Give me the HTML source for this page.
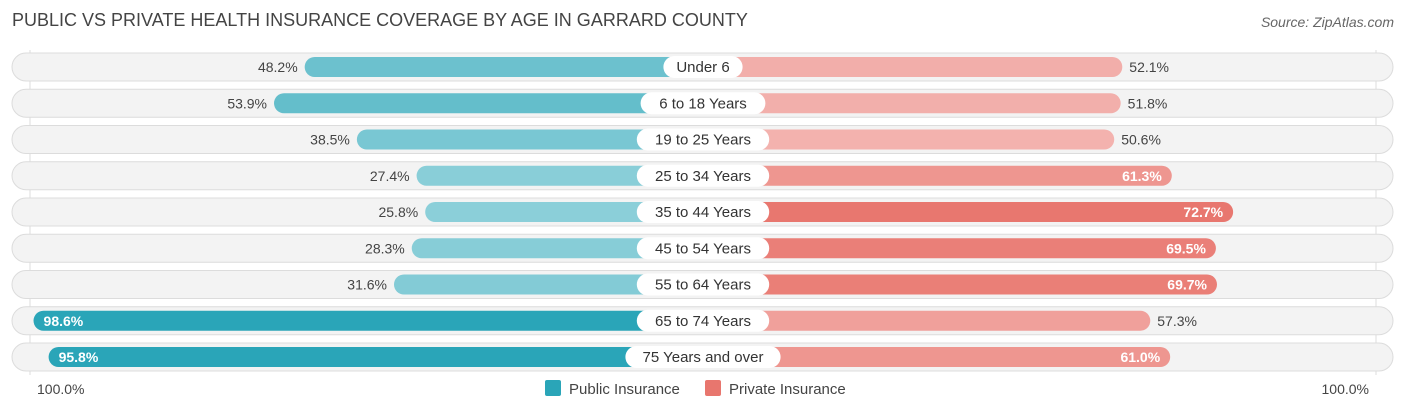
<!DOCTYPE html>
<html><head><meta charset="utf-8"><style>
body{margin:0;width:1406px;height:413px;background:#fff;font-family:"Liberation Sans",sans-serif;overflow:hidden;position:relative}
.t{position:absolute;left:12px;top:10px;font-size:18px;color:#444}
.src{position:absolute;right:12px;top:14px;font-size:14px;color:#666;font-style:italic}
</style></head><body>
<div class="t">PUBLIC VS PRIVATE HEALTH INSURANCE COVERAGE BY AGE IN GARRARD COUNTY</div>
<div class="src">Source: ZipAtlas.com</div>
<svg id="c" width="1406" height="413" style="position:absolute;left:0;top:0"></svg>
<script>
const categories=["Under 6","6 to 18 Years","19 to 25 Years","25 to 34 Years","35 to 44 Years","45 to 54 Years","55 to 64 Years","65 to 74 Years","75 Years and over"];
const publicVals=[48.2,53.9,38.5,27.4,25.8,28.3,31.6,98.6,95.8];
const privateVals=[52.1,51.8,50.6,61.3,72.7,69.5,69.7,57.3,61.0];
const axisLabels=["100.0%","100.0%"];
const NS="http://www.w3.org/2000/svg";
const svg=document.getElementById('c');
const cx=703,off=139,k=5.38,y0=67,dy=36.25;
function len(v){return off+v*k;}
function mix(a,b,t){t=Math.max(0,Math.min(1,t));return 'rgb('+a.map((x,i)=>Math.round(x+(b[i]-x)*t)).join(',')+')';}
function el(tag,attrs,parent){const e=document.createElementNS(NS,tag);for(const a in attrs)e.setAttribute(a,attrs[a]);(parent||svg).appendChild(e);return e;}
const line=el('line',{x1:30,y1:50,x2:30,y2:375,stroke:'#ddd'});

const line2=el('line',{x1:1376,y1:50,x2:1376,y2:375,stroke:'#ddd'});

categories.forEach((c,i)=>{
  const y=y0+i*dy;
  const g=el('g',{});
  
  
  el('rect',{x:12,y:y-14,width:1381,height:28,rx:14,fill:'#f3f3f3',stroke:'#dcdcdc'},g);
  const pv=publicVals[i],rv=privateVals[i];
  const pl=len(pv),rl=len(rv);
  const pb=el('rect',{x:cx-pl,y:y-10,width:pl,height:20,rx:10,fill:mix([140,207,217],[42,165,184],(pv-25)/70)},g);
  
  const rb=el('rect',{x:cx,y:y-10,width:rl,height:20,rx:10,fill:mix([243,180,176],[232,118,110],(rv-50)/23)},g);
  
  const tw=c.length*7.6+26;
  const lb=el('rect',{x:cx-tw/2,y:y-11,width:tw,height:22,rx:11,fill:'#fff'},g);
  
  const ct=el('text',{x:cx,y:y+5,'text-anchor':'middle','font-size':15,fill:'#333'},g);ct.textContent=c;
  
  const pin=pv>70;
  const pt=el('text',{x:pin?cx-pl+10:cx-pl-7,y:y+5,'text-anchor':pin?'start':'end','font-size':14,fill:pin?'#fff':'#444','font-weight':pin?'bold':'normal'},g);
  pt.textContent=pv.toFixed(1)+'%';
  
  const rin=rv>60;
  const rt=el('text',{x:rin?cx+rl-10:cx+rl+7,y:y+5,'text-anchor':rin?'end':'start','font-size':14,fill:rin?'#fff':'#444','font-weight':rin?'bold':'normal'},g);
  rt.textContent=rv.toFixed(1)+'%';
  
});
const a1=el('text',{x:37,y:394,'font-size':14,fill:'#444'});a1.textContent=axisLabels[0];

const a2=el('text',{x:1369,y:394,'font-size':14,fill:'#444','text-anchor':'end'});a2.textContent=axisLabels[1];

const l1=el('rect',{x:545,y:380,width:16,height:16,rx:2,fill:'#2aa5b8'});

const lt1=el('text',{x:569,y:394,'font-size':15,fill:'#444'});lt1.textContent='Public Insurance';

const l2=el('rect',{x:705,y:380,width:16,height:16,rx:2,fill:'#e8766e'});

const lt2=el('text',{x:729,y:394,'font-size':15,fill:'#444'});lt2.textContent='Private Insurance';

</script>
</body></html>
